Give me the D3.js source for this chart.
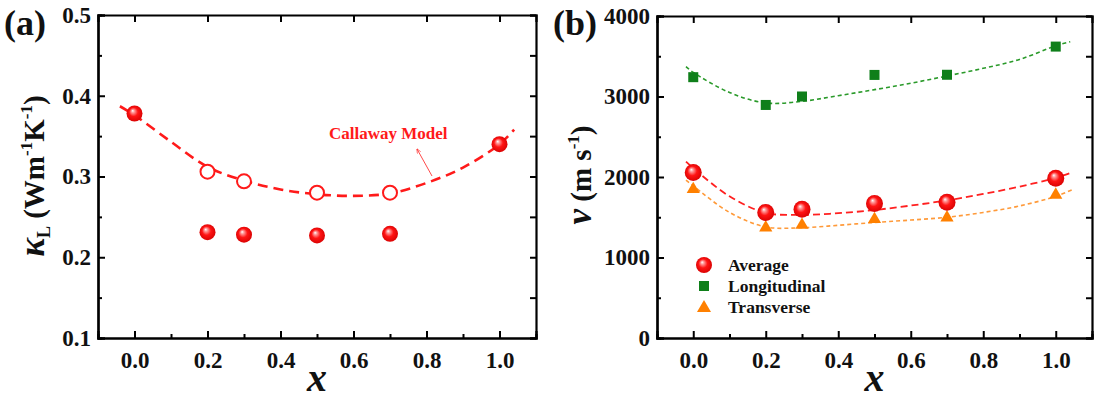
<!DOCTYPE html>
<html>
<head>
<meta charset="utf-8">
<script src="https://cdnjs.cloudflare.com/ajax/libs/d3/7.8.5/d3.min.js"></script>
<style>
  body { margin: 0; background: #fff; }
  text { font-family: "Liberation Serif", "Times New Roman", serif; font-weight: bold; }
</style>
</head>
<body>
<div id="plot"></div>
<script>
// ---- panel (a) data ----
const xMeasured = [0.0, 0.2, 0.3, 0.5, 0.7, 1.0]
const kappaMeasured = [0.378, 0.231, 0.228, 0.227, 0.229, 0.340]
const xCalc = [0.2, 0.3, 0.5, 0.7]
const kappaCalc = [0.306, 0.294, 0.280, 0.280]
const xCallaway = [-0.04, 0.0, 0.1, 0.2, 0.3, 0.4, 0.5, 0.6, 0.7, 0.8, 0.9, 1.0, 1.04]
const kappaCallaway = [0.387, 0.376, 0.343, 0.312, 0.295, 0.284, 0.278, 0.276, 0.279, 0.292, 0.311, 0.340, 0.358]

// ---- panel (b) data ----
const xSound = [0.0, 0.2, 0.3, 0.5, 0.7, 1.0]
const vAverage = [2055, 1560, 1598, 1672, 1686, 1985]
const vLong = [3240, 2895, 3000, 3268, 3270, 3620]
const vTrans = [1860, 1383, 1416, 1487, 1507, 1790]
const xFitB = [-0.02, 0.0, 0.1, 0.2, 0.3, 0.4, 0.5, 0.6, 0.7, 0.8, 0.9, 1.0, 1.04]
const fitAverage = [2190, 2110, 1760, 1555, 1530, 1550, 1590, 1645, 1710, 1790, 1880, 1990, 2050]
const fitLong = [3370, 3300, 3050, 2920, 2940, 3010, 3085, 3165, 3255, 3350, 3460, 3630, 3680]
const xFitT = [-0.02, 0.0, 0.1, 0.2, 0.3, 0.4, 0.5, 0.6, 0.7, 0.8, 0.9, 1.0, 1.05]
const fitTrans = [1960, 1890, 1560, 1380, 1370, 1400, 1435, 1465, 1500, 1560, 1640, 1760, 1850]

const xTicks = [0.0, 0.2, 0.4, 0.6, 0.8, 1.0]
const legendNames = ['Average', 'Longitudinal', 'Transverse']

const W = 1094, H = 399
const svg = d3.select('#plot').append('svg').attr('width', W).attr('height', H)

// sphere look for filled circles
const defs = svg.append('defs')
const grad = defs.append('radialGradient').attr('id', 'sphere')
  .attr('cx', '0.5').attr('cy', '0.5').attr('r', '0.55').attr('fx', '0.38').attr('fy', '0.32')
grad.append('stop').attr('offset', '0%').attr('stop-color', '#ffffff')
grad.append('stop').attr('offset', '18%').attr('stop-color', '#ff9a9a')
grad.append('stop').attr('offset', '50%').attr('stop-color', '#ff1414')
grad.append('stop').attr('offset', '100%').attr('stop-color', '#d40000')

function zip(xs, ys) { return xs.map((x, i) => ({x: x, y: ys[i]})) }

function drawFrame(box, yDomain, yMajor, yMinor, xFmt, yFmt) {
  const x = d3.scaleLinear().domain([-0.1, 1.1]).range([box.left, box.right])
  const y = d3.scaleLinear().domain(yDomain).range([box.bottom, box.top])
  const g = svg.append('g')
  const xMinor = d3.range(-0.1, 1.11, 0.1).map(v => +v.toFixed(2)).filter(v => !xTicks.includes(v) && v > -0.1 && v < 1.1)

  // bottom
  g.append('g').attr('transform', `translate(0,${box.bottom})`)
    .call(d3.axisBottom(x).tickValues(xTicks).tickSize(-7).tickPadding(14).tickFormat(xFmt))
  g.append('g').attr('transform', `translate(0,${box.bottom})`)
    .call(d3.axisBottom(x).tickValues(xMinor).tickSize(-4).tickFormat(''))
  // top (major only)
  g.append('g').attr('transform', `translate(0,${box.top})`)
    .call(d3.axisTop(x).tickValues(xTicks).tickSize(-7).tickFormat(''))
  // left
  g.append('g').attr('transform', `translate(${box.left},0)`)
    .call(d3.axisLeft(y).tickValues(yMajor).tickSize(-7).tickPadding(7).tickFormat(yFmt))
  g.append('g').attr('transform', `translate(${box.left},0)`)
    .call(d3.axisLeft(y).tickValues(yMinor).tickSize(-4).tickFormat(''))
  // right (all ticks)
  g.append('g').attr('transform', `translate(${box.right},0)`)
    .call(d3.axisRight(y).tickValues(yMajor.concat(yMinor)).tickSize(-6).tickFormat(''))

  g.selectAll('.domain').attr('stroke', '#000').attr('stroke-width', 2.2)
  g.selectAll('.tick line').attr('stroke', '#000').attr('stroke-width', 2)
  g.selectAll('.tick text').attr('fill', '#111').style('font-size', '23px')
    .style('font-family', '"Liberation Serif", serif').style('font-weight', 'bold')

  // x label
  svg.append('text').attr('x', (box.left + box.right) / 2).attr('y', 391)
    .attr('text-anchor', 'middle').style('font-size', '40px').style('font-style', 'italic')
    .attr('fill', '#111').text('x')
  return {x, y}
}

function sphere(sel, x, y, data, r) {
  sel.selectAll(null).data(data).enter().append('circle')
    .attr('cx', d => x(d.x)).attr('cy', d => y(d.y)).attr('r', r)
    .attr('fill', 'url(#sphere)')
}

// ================= panel (a) =================
const boxA = {left: 98, right: 536, top: 15, bottom: 338}
const a = drawFrame(boxA, [0.1, 0.5], [0.1, 0.2, 0.3, 0.4, 0.5], [0.15, 0.25, 0.35, 0.45],
  d3.format('.1f'), d3.format('.1f'))

const lineA = d3.line().x(d => a.x(d.x)).y(d => a.y(d.y)).curve(d3.curveCatmullRom)
svg.append('path').datum(zip(xCallaway, kappaCallaway))
  .attr('d', lineA).attr('fill', 'none').attr('stroke', '#ff1a1a')
  .attr('stroke-width', 2.6).attr('stroke-dasharray', '10,6')

svg.append('g').selectAll(null).data(zip(xCalc, kappaCalc)).enter().append('circle')
  .attr('cx', d => a.x(d.x)).attr('cy', d => a.y(d.y)).attr('r', 7)
  .attr('fill', '#fff').attr('stroke', '#ff1a1a').attr('stroke-width', 2)
sphere(svg.append('g'), a.x, a.y, zip(xMeasured, kappaMeasured), 8)

// Callaway annotation
svg.append('text').attr('x', 329).attr('y', 139).attr('fill', '#ff1a1a')
  .style('font-size', '17px').text('Callaway Model')
defs.append('marker').attr('id', 'arrow').attr('viewBox', '0 0 10 10')
  .attr('refX', 9).attr('refY', 5).attr('markerWidth', 6).attr('markerHeight', 6)
  .attr('orient', 'auto').append('path').attr('d', 'M0,1 L10,5 L0,9').attr('fill', 'none')
  .attr('stroke', '#ff1a1a').attr('stroke-width', 1.2)
svg.append('line').attr('x1', 432).attr('y1', 176).attr('x2', 417).attr('y2', 149)
  .attr('stroke', '#ff1a1a').attr('stroke-width', 0.8).attr('marker-end', 'url(#arrow)')

// y label (a)
const yLabA = svg.append('text').attr('transform', 'translate(44,176) rotate(-90)')
  .attr('text-anchor', 'middle').attr('fill', '#111').style('font-size', '29px')
yLabA.append('tspan').style('font-style', 'italic').style('font-size', '35px').text('κ')
yLabA.append('tspan').attr('dy', 6).style('font-size', '18px').text('L')
yLabA.append('tspan').attr('dy', -6).text(' (Wm')
yLabA.append('tspan').attr('dy', -12).style('font-size', '17px').text('-1')
yLabA.append('tspan').attr('dy', 12).text('K')
yLabA.append('tspan').attr('dy', -12).style('font-size', '17px').text('-1')
yLabA.append('tspan').attr('dy', 12).text(')')

svg.append('text').attr('x', 4).attr('y', 35).attr('fill', '#111')
  .style('font-size', '36px').text('(a)')

// ================= panel (b) =================
const boxB = {left: 657, right: 1092, top: 16, bottom: 338}
const b = drawFrame(boxB, [0, 4000], [0, 1000, 2000, 3000, 4000], [500, 1500, 2500, 3500],
  d3.format('.1f'), d3.format('d'))

const lineB = d3.line().x(d => b.x(d.x)).y(d => b.y(d.y)).curve(d3.curveCatmullRom)
svg.append('path').datum(zip(xFitB, fitLong)).attr('d', lineB).attr('fill', 'none')
  .attr('stroke', '#2a9a2a').attr('stroke-width', 1.6).attr('stroke-dasharray', '4,3')
svg.append('path').datum(zip(xFitT, fitTrans)).attr('d', lineB).attr('fill', 'none')
  .attr('stroke', '#ff9a3a').attr('stroke-width', 1.6).attr('stroke-dasharray', '4,3')
svg.append('path').datum(zip(xFitB, fitAverage)).attr('d', lineB).attr('fill', 'none')
  .attr('stroke', '#ff2020').attr('stroke-width', 1.8).attr('stroke-dasharray', '7,4')

svg.append('g').selectAll(null).data(zip(xSound, vLong)).enter().append('rect')
  .attr('x', d => b.x(d.x) - 5).attr('y', d => b.y(d.y) - 5).attr('width', 10).attr('height', 10)
  .attr('fill', '#0f7f1a')
const tri = d3.symbol().type(d3.symbolTriangle).size(75)
svg.append('g').selectAll(null).data(zip(xSound, vTrans)).enter().append('path')
  .attr('d', tri).attr('transform', d => `translate(${b.x(d.x)},${b.y(d.y) + 1})`)
  .attr('fill', '#ff8000')
sphere(svg.append('g'), b.x, b.y, zip(xSound, vAverage), 8.5)

// legend
const leg = svg.append('g')
leg.append('circle').attr('cx', 704).attr('cy', 265).attr('r', 8).attr('fill', 'url(#sphere)')
leg.append('rect').attr('x', 699).attr('y', 281).attr('width', 10).attr('height', 10).attr('fill', '#0f7f1a')
leg.append('path').attr('d', d3.symbol().type(d3.symbolTriangle).size(85))
  .attr('transform', 'translate(704,308)').attr('fill', '#ff8000')
leg.selectAll(null).data(legendNames).enter().append('text')
  .attr('x', 728).attr('y', (d, i) => 271 + i * 21).attr('fill', '#111')
  .style('font-size', '17.5px').text(d => d)

// y label (b)
const yLabB = svg.append('text').attr('transform', 'translate(591,175) rotate(-90)')
  .attr('text-anchor', 'middle').attr('fill', '#111').style('font-size', '29px')
yLabB.append('tspan').style('font-style', 'italic').style('font-size', '35px').text('v')
yLabB.append('tspan').text(' (m s')
yLabB.append('tspan').attr('dy', -12).style('font-size', '17px').text('-1')
yLabB.append('tspan').attr('dy', 12).text(')')

svg.append('text').attr('x', 553).attr('y', 35).attr('fill', '#111')
  .style('font-size', '36px').text('(b)')
</script>
</body>
</html>
